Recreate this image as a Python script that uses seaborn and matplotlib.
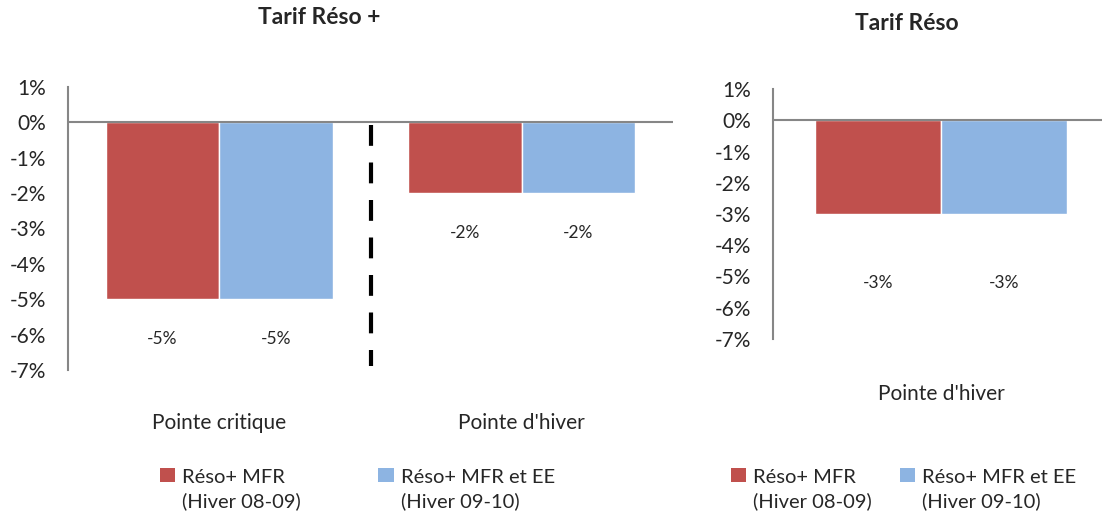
import numpy as np
import pandas as pd
import matplotlib
matplotlib.use('Agg')
import matplotlib.pyplot as plt
import seaborn as sns
from matplotlib.patches import Patch, Rectangle
from matplotlib.legend_handler import HandlerPatch

# données (en %)
series = ['Réso+ MFR\n(Hiver 08-09)', 'Réso+ MFR et EE\n(Hiver 09-10)']
colors = ['#C0504D', '#8DB4E2']

cat_plus = ['Pointe critique', "Pointe d'hiver"]
plus_mfr = [-5, -2]
plus_ee = [-5, -2]

cat_reso = ["Pointe d'hiver"]
reso_mfr = [-3]
reso_ee = [-3]

yticks = list(range(1, -8, -1))

sns.set_style('white')
plt.rcParams['font.family'] = ['Lato', 'DejaVu Sans']


def make_df(cats, v1, v2):
    return pd.DataFrame({
        'cat': cats * 2,
        'serie': [series[0]] * len(cats) + [series[1]] * len(cats),
        'val': list(v1) + list(v2),
    })


def style_axis(ax, label_pad, tick_pad):
    ax.set_ylim(-7, 1)
    ax.set_yticks(yticks)
    ax.set_yticklabels([f'{t}%' for t in yticks], fontsize=15, ha='right')
    ax.tick_params(axis='y', length=0, pad=16)
    ax.tick_params(axis='x', length=0, pad=tick_pad, labelsize=15)
    for s in ['top', 'right', 'bottom']:
        ax.spines[s].set_visible(False)
    ax.spines['left'].set_color('#868686')
    ax.spines['left'].set_linewidth(1.5)
    ax.axhline(0, color='#868686', lw=1.5, zorder=3)
    ax.set_xlabel('')
    ax.set_ylabel('')
    for c in ax.containers:
        ax.bar_label(c, labels=[f'{v:.0f}%' for v in c.datavalues],
                     padding=label_pad, fontsize=12.5)
    if ax.get_legend() is not None:
        ax.get_legend().remove()


# carré de légende aligné sur la première ligne du texte
def top_patch(legend, orig_handle, xdescent, ydescent, width, height, fontsize):
    return Rectangle((-xdescent, -ydescent + 0.72 * fontsize), width, height)


fig = plt.figure(figsize=(11.02, 5.17), dpi=100)
ax1 = fig.add_axes([68 / 1102, 1 - 370 / 517, 605 / 1102, 283 / 517])
ax2 = fig.add_axes([773 / 1102, 1 - 339 / 517, 336 / 1102, 250 / 517])

sns.barplot(data=make_df(cat_plus, plus_mfr, plus_ee), x='cat', y='val',
            hue='serie', palette=colors, width=0.75, saturation=1, ax=ax1)
style_axis(ax1, 23, 31)
ax1.set_xlim(-0.5, 1.5)
ax1.plot([0.5, 0.5], [-0.08, -6.9], color='black', lw=3,
         linestyle=(0, (5, 4)), zorder=4)

sns.barplot(data=make_df(cat_reso, reso_mfr, reso_ee), x='cat', y='val',
            hue='serie', palette=colors, width=0.75, saturation=1, ax=ax2)
style_axis(ax2, 44, 32.5)
ax2.set_xlim(-0.5, 0.5)

fig.text(319 / 1102, 1 - 18 / 517, 'Tarif Réso +', ha='center', va='center',
         fontsize=16.5, fontweight='bold')
fig.text(907 / 1102, 1 - 24 / 517, 'Tarif Réso', ha='center', va='center',
         fontsize=16.5, fontweight='bold')

handles = [Patch(facecolor=c, edgecolor='none') for c in colors]
for x0, cs in [(160 / 1102, 3.85), (731 / 1102, 1.4)]:
    leg = fig.legend(handles, series, loc='upper left',
                     bbox_to_anchor=(x0, 1 - 469 / 517),
                     ncol=2, frameon=False, fontsize=14.5, handlelength=0.75,
                     handleheight=0.65, handletextpad=0.35, columnspacing=cs,
                     borderaxespad=0, borderpad=0,
                     handler_map={Patch: HandlerPatch(patch_func=top_patch)})
    for t in leg.get_texts():
        t.set_linespacing(1.4)

fig.savefig('out.png', dpi=100)
